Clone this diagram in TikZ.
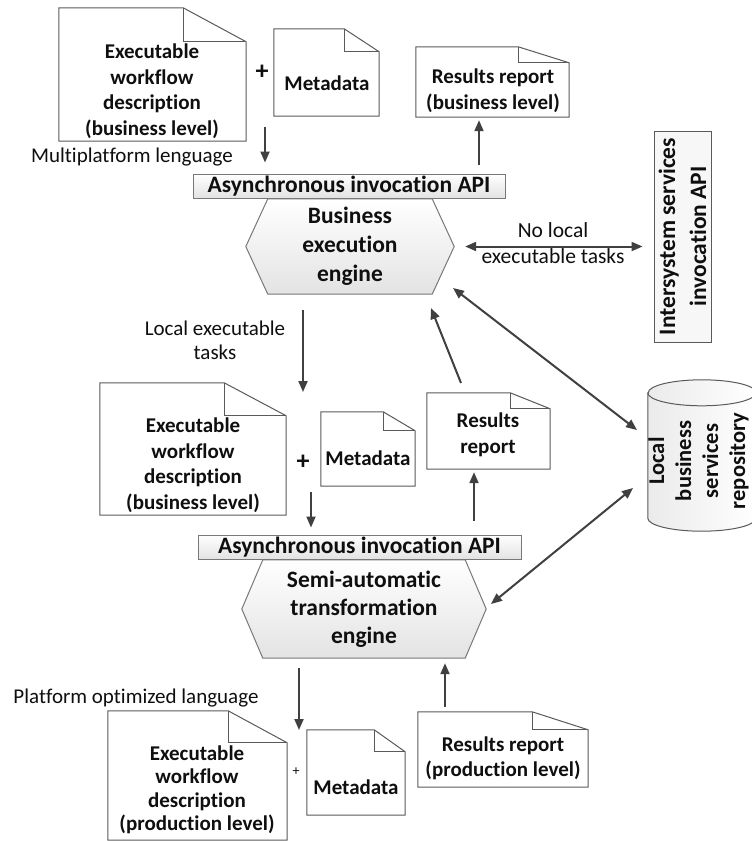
\documentclass[tikz,border=0pt]{standalone}
\usepackage{fontspec}
\setmainfont{Carlito}[Ligatures={NoCommon}]
\usetikzlibrary{arrows.meta,backgrounds,calc}
\definecolor{docgray}{RGB}{90,90,90}
\definecolor{arrgray}{RGB}{64,64,64}
\definecolor{boxgray}{RGB}{120,120,120}
\definecolor{txt}{RGB}{15,15,15}
\newcommand{\docfold}[3]{%
  \draw[docline] (#1.north west) -- ([xshift=-#2]#1.north east) -- ([yshift=-#3]#1.north east) -- (#1.south east) -- (#1.south west) -- cycle;
  \draw[docline] ([xshift=-#2]#1.north east) |- ([yshift=-#3]#1.north east);
}
\begin{document}
\begin{tikzpicture}[x=1pt,y=-1pt,
  bt/.style={font=\bfseries\fontsize{21}{25.5}\selectfont, align=center, inner sep=0pt, text=txt},
  bigbt/.style={font=\bfseries\fontsize{23.5}{29}\selectfont, align=center, inner sep=0pt, text=txt},
  nt/.style={font=\fontsize{21}{24}\selectfont, align=center, inner sep=0pt, text=txt},
  docbox/.style={rectangle, inner sep=0pt, draw=none},
  docline/.style={draw=docgray, line width=1pt, line join=miter},
  plussign/.style={font=\bfseries\fontsize{26}{26}\selectfont, inner sep=0pt, text=txt},
  apibox/.style={rectangle, draw=boxgray, line width=1pt, top color=white, bottom color=gray!22, inner sep=0pt, font=\bfseries\fontsize{23.5}{24}\selectfont, text=txt},
  hexfill/.style={draw=boxgray, line width=1pt, top color=white, bottom color=gray!22},
  arr/.style={draw=arrgray, line width=2pt, -{Triangle[length=11pt,width=9pt]}},
  darr/.style={draw=arrgray, line width=2pt, {Triangle[length=11pt,width=9pt]}-{Triangle[length=11pt,width=9pt]}},
]
\useasboundingbox (0,0) rectangle (752,841);

% ---------- top level ----------
\node[docbox, minimum width=187pt, minimum height=133pt] (wf1) at (152.5,74.5) {};
\node[bt] (wf1t) at (152,91) {Executable\\workflow\\description\\(business level)};
\node[plussign] (plus1) at (262,72) {+};
\node[docbox, minimum width=105pt, minimum height=87pt] (md1) at (326.5,72.5) {};
\node[bt] (md1t) at (327,83) {Metadata};
\node[docbox, minimum width=153pt, minimum height=70pt] (rr1) at (492.5,82) {};
\node[bt] (rr1t) at (493,90.5) {Results report\\(business level)};
\node[nt] (mpl) at (132,157) {Multiplatform lenguage};

\node[apibox, minimum width=312pt, minimum height=24pt] (api1) at (349,186) {Asynchronous invocation API};
\node[bigbt, minimum width=208pt, minimum height=95pt] (bee) at (350,246.5) {Business\\execution\\engine};

\node[rectangle, draw=docgray, line width=1pt, fill=gray!6, rotate=90, minimum width=211pt, minimum height=57pt,
      bigbt, font=\bfseries\fontsize{23.5}{31}\selectfont] (isb) at (682.5,236.5) {Intersystem services\\invocation API};
\node[nt, font=\fontsize{21.5}{26}\selectfont] (nolocal) at (553,243) {No local\\executable tasks};

% ---------- middle level ----------
\node[nt] (lettext) at (215,340) {Local executable\\tasks};
\node[docbox, minimum width=186pt, minimum height=132pt] (wf2) at (193,449) {};
\node[bt] (wf2t) at (193,465) {Executable\\workflow\\description\\(business level)};
\node[plussign] (plus2) at (303,462) {+};
\node[docbox, minimum width=94pt, minimum height=74pt] (md2) at (368,449) {};
\node[bt] (md2t) at (368,458) {Metadata};
\node[docbox, minimum width=123pt, minimum height=76pt] (rr2) at (488.5,431) {};
\node[bt] (rr2t) at (488,435) {Results\\report};

\node[apibox, minimum width=323pt, minimum height=24pt] (api2) at (359.5,547) {Asynchronous invocation API};
\node[bigbt, font=\bfseries\fontsize{23.5}{28}\selectfont, minimum width=244pt, minimum height=98pt] (ste) at (364,609) {Semi-automatic\\transformation\\engine};

% repository cylinder
\node[docbox, minimum width=108pt, minimum height=125pt] (cyl) at (702,455.5) {};
\node[bigbt, rotate=90, font=\bfseries\fontsize{22.5}{27}\selectfont] (cylt) at (698.5,461) {Local\\business\\services\\repository};

% ---------- bottom level ----------
\node[nt] (pol) at (136,698) {Platform optimized language};
\node[docbox, minimum width=179pt, minimum height=129pt] (wf3) at (197.5,775.5) {};
\node[bt, font=\bfseries\fontsize{21}{23.5}\selectfont] (wf3t) at (197,790) {Executable\\workflow\\description\\(production level)};
\node[font=\fontsize{14}{14}\selectfont, inner sep=0pt, text=txt] (plus3) at (296,772) {+};
\node[docbox, minimum width=98pt, minimum height=85pt] (md3) at (356,772.5) {};
\node[bt] (md3t) at (356,787) {Metadata};
\node[docbox, minimum width=170pt, minimum height=75pt] (rr3) at (503,749.5) {};
\node[bt] (rr3t) at (503,758.5) {Results report\\(production level)};

% document outlines
\docfold{wf1}{63pt}{34pt}
\docfold{md1}{35pt}{23pt}
\docfold{rr1}{51pt}{16pt}
\docfold{wf2}{62pt}{33pt}
\docfold{md2}{32pt}{19pt}
\docfold{rr2}{40pt}{16pt}
\docfold{wf3}{59pt}{32pt}
\docfold{md3}{31pt}{22pt}
\docfold{rr3}{56pt}{18pt}

% backgrounds: hexagons and cylinder
\begin{scope}[on background layer]
  \fill[white] (0,0) rectangle (752,841);
  \path[hexfill] (bee.west) -- ([xshift=22pt]bee.north west) -- ([xshift=-22pt]bee.north east) -- (bee.east)
     -- ([xshift=-22pt]bee.south east) -- ([xshift=22pt]bee.south west) -- cycle;
  \path[hexfill] (ste.west) -- ([xshift=21pt]ste.north west) -- ([xshift=-21pt]ste.north east) -- (ste.east)
     -- ([xshift=-21pt]ste.south east) -- ([xshift=21pt]ste.south west) -- cycle;
  \path[left color=gray!16, right color=white, draw=docgray, line width=1pt]
     (cyl.north west) -- (cyl.south west) arc[start angle=180, end angle=360, x radius=54pt, y radius=13pt]
     -- (cyl.north east) arc[start angle=0, end angle=180, x radius=54pt, y radius=13pt] -- cycle;
  \draw[docgray, line width=1pt] (cyl.north west) arc[start angle=180, end angle=360, x radius=54pt, y radius=13pt];
\end{scope}

% ---------- connectors ----------
\coordinate (a1s) at (265,127);
\draw[arr, shorten >=11pt] (a1s) -- (a1s |- api1.north);
\coordinate (a2x) at (479,0);
\draw[arr, shorten <=9pt, shorten >=3pt] (a2x |- api1.north) -- (a2x |- rr1.south);
\draw[darr, shorten <=11pt, shorten >=11pt] (bee.east) -- (bee.east -| isb.north);
\coordinate (a3s) at (303,310);
\coordinate (a3e) at (303,392);
\draw[arr] (a3s) -- (a3e);
\coordinate (a4s) at (311,492);
\draw[arr, shorten >=7pt] (a4s) -- (a4s |- api2.north);
\coordinate (a5x) at (474,0);
\draw[arr, shorten <=14pt, shorten >=3pt] (a5x |- api2.north) -- (a5x |- rr2.south);
\coordinate (a6s) at (461,383);
\coordinate (a6e) at (431,308);
\draw[arr] (a6s) -- (a6e);
\coordinate (d2a) at (453,288);
\coordinate (d2b) at (637,430);
\draw[darr] (d2a) -- (d2b);
\coordinate (d3a) at (491,604);
\coordinate (d3b) at (633,488);
\draw[darr] (d3a) -- (d3b);
\coordinate (a7x) at (299,0);
\coordinate (a7e) at (299,730);
\draw[arr, shorten <=10pt] (a7x |- ste.south) -- (a7e);
\coordinate (a8x) at (445,0);
\draw[arr, shorten <=5pt, shorten >=5pt] (a8x |- rr3.north) -- (a8x |- ste.south);
\end{tikzpicture}
\end{document}
